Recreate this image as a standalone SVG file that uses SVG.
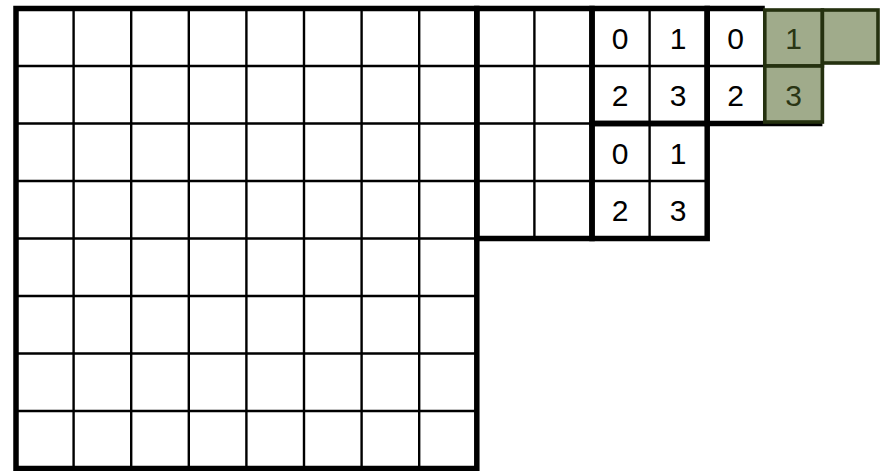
<svg xmlns="http://www.w3.org/2000/svg" width="890" height="471" viewBox="0 0 890 471">
<style>
.thin{stroke:#000;stroke-width:2.4;fill:none}
.thick{stroke:#000;stroke-width:5.5;fill:none}
.green{fill:#a0ab8b;stroke:#25310f;stroke-width:3.6}
.t{font-family:"Liberation Sans",Arial,sans-serif;font-size:30px;text-anchor:middle;fill:#000}
.tg{fill:#2a3514}
</style>
<rect width="890" height="471" fill="#fff"/>
<g id="big-grid">
<path class="thin" d="M73.6 8.5V468.5M131.2 8.5V468.5M188.8 8.5V468.5M246.4 8.5V468.5M304 8.5V468.5M361.6 8.5V468.5M419.2 8.5V468.5M16 66H476.8M16 123.5H476.8M16 181H476.8M16 238.5H476.8M16 296H476.8M16 353.5H476.8M16 411H476.8"/>
<rect class="thick" x="16" y="8.5" width="460.8" height="460"/>
</g>
<g id="block-2x4">
<path class="thin" d="M534.4 8.5V238.5M476.8 66H592M476.8 123.5H592M476.8 181H592"/>
<rect class="thick" x="476.8" y="8.5" width="115.2" height="230"/>
</g>
<g id="block-a">
<path class="thin" d="M649.6 8.5V123.5M592 66H707.2"/>
<rect class="thick" x="592" y="8.5" width="115.2" height="115"/>
<text class="t" x="620" y="48.5">0</text>
<text class="t" x="678" y="48.5">1</text>
<text class="t" x="620" y="106">2</text>
<text class="t" x="678" y="106">3</text>
</g>
<g id="block-b">
<path class="thin" d="M649.6 123.5V238.5M592 181H707.2"/>
<rect class="thick" x="592" y="123.5" width="115.2" height="115"/>
<text class="t" x="620" y="163.5">0</text>
<text class="t" x="678" y="163.5">1</text>
<text class="t" x="620" y="221">2</text>
<text class="t" x="678" y="221">3</text>
</g>
<g id="block-c">
<path class="thin" d="M707.2 66H764.8"/>
<path class="thick" d="M764.8 8.5H707.2V123.5H822.4"/>
<text class="t" x="735.5" y="48.5">0</text>
<text class="t" x="735.5" y="106">2</text>
</g>
<g id="green-1">
<rect class="green" x="764.8" y="10" width="57.6" height="56"/>
<text class="t tg" x="793.6" y="48.5">1</text>
</g>
<g id="green-3">
<rect class="green" x="764.8" y="66" width="57.6" height="56"/>
<text class="t tg" x="793.6" y="106">3</text>
</g>
<g id="green-empty">
<rect class="green" x="822.4" y="10" width="55.6" height="53"/>
</g>
<g id="connectors"/>
</svg>
